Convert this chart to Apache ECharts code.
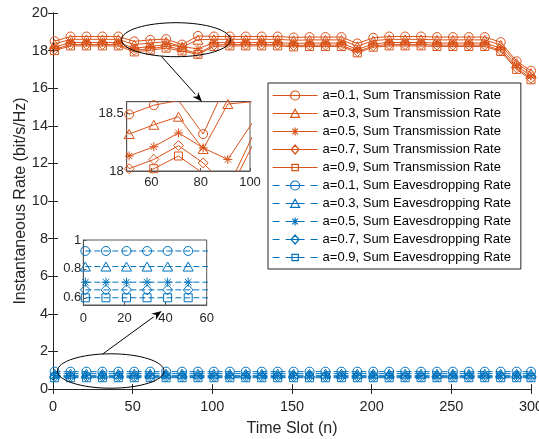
<!DOCTYPE html>
<html>
<head>
<meta charset="utf-8">
<script src="https://cdn.jsdelivr.net/npm/echarts@6/dist/echarts.min.js"></script>
<style>html,body{margin:0;padding:0;background:#fff}#c{width:539px;height:439px}</style>
</head>
<body>
<div id="c"></div>
<script>
// ---- data ----
const timeSlots = [1,11,21,31,41,51,61,71,81,91,101,111,121,131,141,151,161,171,181,191,201,211,221,231,241,251,261,271,281,291,300];
const trans01 = [18.50,18.75,18.75,18.75,18.75,18.49,18.57,18.61,18.32,18.78,18.75,18.75,18.75,18.75,18.75,18.70,18.72,18.72,18.72,18.38,18.68,18.75,18.75,18.75,18.72,18.72,18.72,18.72,18.45,17.43,16.93];
const trans03 = [18.35,18.60,18.60,18.60,18.60,18.32,18.40,18.47,18.19,18.58,18.60,18.60,18.60,18.60,18.60,18.55,18.57,18.57,18.57,18.23,18.53,18.60,18.60,18.60,18.57,18.57,18.57,18.57,18.30,17.33,16.80];
const trans05 = [18.18,18.43,18.43,18.43,18.43,18.13,18.21,18.33,18.20,18.10,18.42,18.43,18.43,18.43,18.43,18.38,18.40,18.40,18.40,18.06,18.36,18.43,18.43,18.43,18.40,18.40,18.40,18.40,18.13,17.20,16.65];
const trans07 = [18.07,18.32,18.32,18.32,18.32,18.02,18.10,18.22,18.07,17.85,18.30,18.32,18.32,18.32,18.32,18.27,18.29,18.29,18.29,17.95,18.25,18.32,18.32,18.32,18.29,18.29,18.29,18.29,18.02,17.08,16.53];
const trans09 = [18.00,18.25,18.25,18.25,18.25,17.93,18.02,18.13,17.98,17.80,18.22,18.25,18.25,18.25,18.25,18.20,18.22,18.22,18.22,17.88,18.18,18.25,18.25,18.25,18.22,18.22,18.22,18.22,17.95,17.00,16.45];
const eav01 = [0.924,0.924,0.924,0.924,0.924,0.924,0.924,0.924,0.924,0.924,0.924,0.924,0.924,0.924,0.924,0.924,0.924,0.924,0.924,0.924,0.924,0.924,0.924,0.924,0.924,0.924,0.924,0.924,0.924,0.924,0.924];
const eav03 = [0.816,0.816,0.816,0.816,0.816,0.816,0.816,0.816,0.816,0.816,0.816,0.816,0.816,0.816,0.816,0.816,0.816,0.816,0.816,0.816,0.816,0.816,0.816,0.816,0.816,0.816,0.816,0.816,0.816,0.816,0.816];
const eav05 = [0.708,0.708,0.708,0.708,0.708,0.708,0.708,0.708,0.708,0.708,0.708,0.708,0.708,0.708,0.708,0.708,0.708,0.708,0.708,0.708,0.708,0.708,0.708,0.708,0.708,0.708,0.708,0.708,0.708,0.708,0.708];
const eav07 = [0.655,0.655,0.655,0.655,0.655,0.655,0.655,0.655,0.655,0.655,0.655,0.655,0.655,0.655,0.655,0.655,0.655,0.655,0.655,0.655,0.655,0.655,0.655,0.655,0.655,0.655,0.655,0.655,0.655,0.655,0.655];
const eav09 = [0.600,0.600,0.600,0.600,0.600,0.600,0.600,0.600,0.600,0.600,0.600,0.600,0.600,0.600,0.600,0.600,0.600,0.600,0.600,0.600,0.600,0.600,0.600,0.600,0.600,0.600,0.600,0.600,0.600,0.600,0.600];
const aValues = ['0.1','0.3','0.5','0.7','0.9'];
const transSeries = [trans01, trans03, trans05, trans07, trans09];
const eavSeries = [eav01, eav03, eav05, eav07, eav09];
const xTicksMain = [0, 300, 50];
const yTicksMain = [0, 20, 2];
const inset1X = [50, 100], inset1XTicks = [60, 80, 100];
const inset1Y = [18, 18.6], inset1YTicks = [18, 18.5];
const inset2X = [0, 60], inset2XTicks = [0, 20, 40, 60];
const inset2Y = [0.55, 1], inset2YTicks = [0.6, 0.8, 1];

// ---- style ----
const ORANGE = '#D95319', BLUE = '#0072BD', AX = '#262626';
const FONT = '"Liberation Sans", Arial, Helvetica, sans-serif';
const SYMS = [
  'path://M1,0A1,1,0,1,1,-1,0A1,1,0,1,1,1,0Z',
  'path://M0,-1L1,0.8L-1,0.8Z',
  'path://M0,-1L0,1M-1,0L1,0M-0.72,-0.72L0.72,0.72M-0.72,0.72L0.72,-0.72',
  'path://M0,-1L1,0L0,1L-1,0Z',
  'path://M-1,-1L1,-1L1,1L-1,1Z'
];
const SYMSIZE = [9, 10, 9, 10, 8];
// legend icon pieces (45 x 11 box)
const ICON_MARK = [
  'M27,5.5A4.5,4.5,0,1,1,18,5.5A4.5,4.5,0,1,1,27,5.5Z',
  'M22.5,1.2L27,9.3L18,9.3Z',
  'M22.5,1.5L22.5,9.5M18.5,5.5L26.5,5.5M19.7,2.7L25.3,8.3M19.7,8.3L25.3,2.7',
  'M22.5,1L26.5,5.5L22.5,10L18.5,5.5Z',
  'M19.3,2.3L25.7,2.3L25.7,8.7L19.3,8.7Z'
];
const ICON_SOLID = 'M0,0M45,11M0,5.5L45,5.5';
const ICON_DASH = 'M0,0M45,11M0,5.5L7,5.5M13,5.5L32,5.5M38,5.5L45,5.5';

function pairs(xs, ys){ return xs.map((x,i)=>[x, ys[i]]); }

const series = [];
const legendData = [];
function mk(name, data, color, k, dashed, xi, yi){
  return {
    name, type:'line', data, xAxisIndex:xi, yAxisIndex:yi,
    symbol: SYMS[k], symbolSize: SYMSIZE[k], symbolKeepAspect: true,
    showAllSymbol: true, clip: true,
    lineStyle: {color, width: 1, type: dashed ? [6,3] : 'solid'},
    itemStyle: {color: 'rgba(0,0,0,0)', borderColor: color, borderWidth: 1},
    emphasis: {disabled: true}, z: 3
  };
}
aValues.forEach((a,k)=>{
  const n = 'a=' + a + ', Sum Transmission Rate';
  legendData.push({name:n, icon:'path://' + ICON_SOLID + ICON_MARK[k],
    itemStyle:{color:'rgba(0,0,0,0)', borderColor:ORANGE, borderWidth:1.2}});
  series.push(mk(n, pairs(timeSlots, transSeries[k]), ORANGE, k, false, 0, 0));
});
aValues.forEach((a,k)=>{
  const n = 'a=' + a + ', Sum Eavesdropping Rate';
  legendData.push({name:n, icon:'path://' + ICON_DASH + ICON_MARK[k],
    itemStyle:{color:'rgba(0,0,0,0)', borderColor:BLUE, borderWidth:1.2}});
  series.push(mk(n, pairs(timeSlots, eavSeries[k]), BLUE, k, true, 0, 0));
});
aValues.forEach((a,k)=>{
  series.push(mk('inset1-' + a, pairs(timeSlots, transSeries[k]), ORANGE, k, false, 2, 2));
});
aValues.forEach((a,k)=>{
  series.push(mk('inset2-' + a, pairs(timeSlots, eavSeries[k]), BLUE, k, true, 4, 3));
});

const axLine = {show:true, lineStyle:{color:AX, width:1}};
const labelStyle = (fs, m) => ({color:AX, fontSize:fs, fontFamily:FONT, margin:m});

function arrow(x1,y1,x2,y2){
  const dx=x2-x1, dy=y2-y1, L=Math.hypot(dx,dy), ux=dx/L, uy=dy/L;
  const hl=10, hw=3.8, bx=x2-ux*hl, by=y2-uy*hl, px=-uy, py=ux;
  const nx=x2-ux*hl*0.7, ny=y2-uy*hl*0.7;
  return [
    {type:'line', shape:{x1, y1, x2:bx, y2:by}, style:{stroke:'#000', lineWidth:1}, z:10},
    {type:'polygon', shape:{points:[[x2,y2],[bx+px*hw,by+py*hw],[nx,ny],[bx-px*hw,by-py*hw]]}, style:{fill:'#000'}, z:10}
  ];
}

const option = {
  animation: false,
  backgroundColor: '#fff',
  textStyle: {fontFamily: FONT},
  grid: [
    {left:53, right:8, top:13, bottom:50, show:false, outerBoundsMode:'none', containLabel:false},
    {left:126.7, top:101.7, width:123.3, height:69.3, show:true, backgroundColor:'#fff', borderColor:'#555', borderWidth:1, outerBoundsMode:'none', containLabel:false},
    {left:83.3, top:240, width:123.4, height:65, show:true, backgroundColor:'#fff', borderColor:'#555', borderWidth:1, outerBoundsMode:'none', containLabel:false}
  ],
  xAxis: [
    {gridIndex:0, type:'value', min:xTicksMain[0], max:xTicksMain[1], interval:xTicksMain[2], position:'bottom',
     axisLine:axLine, axisTick:{show:true, inside:true, length:5, lineStyle:{color:AX}},
     axisLabel:labelStyle(14.5, 10), splitLine:{show:false},
     name:'Time Slot (n)', nameLocation:'middle', nameGap:32, nameMoveOverlap:false,
     nameTextStyle:{fontSize:16, color:AX, fontFamily:FONT}},
    {gridIndex:0, type:'value', min:xTicksMain[0], max:xTicksMain[1], interval:xTicksMain[2], position:'top',
     axisLine:axLine, axisTick:{show:true, inside:true, length:5, lineStyle:{color:AX}},
     axisLabel:{show:false}, splitLine:{show:false}},
    {gridIndex:1, type:'value', min:inset1X[0], max:inset1X[1], position:'bottom',
     axisLine:{show:true, lineStyle:{color:'#555'}},
     axisTick:{show:true, inside:true, length:3, customValues:inset1XTicks, lineStyle:{color:'#555'}},
     axisLabel:Object.assign(labelStyle(13, 5), {customValues:inset1XTicks}), splitLine:{show:false}},
    {gridIndex:1, type:'value', min:inset1X[0], max:inset1X[1], position:'top',
     axisLine:{show:true, lineStyle:{color:'#555'}}, axisTick:{show:false}, axisLabel:{show:false}, splitLine:{show:false}},
    {gridIndex:2, type:'value', min:inset2X[0], max:inset2X[1], position:'bottom',
     axisLine:{show:true, lineStyle:{color:'#555'}},
     axisTick:{show:true, inside:true, length:3, customValues:inset2XTicks, lineStyle:{color:'#555'}},
     axisLabel:Object.assign(labelStyle(13, 7), {customValues:inset2XTicks}), splitLine:{show:false}}
  ],
  yAxis: [
    {gridIndex:0, type:'value', min:yTicksMain[0], max:yTicksMain[1], interval:yTicksMain[2], position:'left',
     axisLine:axLine, axisTick:{show:true, inside:true, length:5, lineStyle:{color:AX}},
     axisLabel:labelStyle(14.5, 5), splitLine:{show:false},
     name:'Instantaneous Rate (bit/s/Hz)', nameLocation:'middle', nameGap:24, nameRotate:90, nameMoveOverlap:false,
     nameTextStyle:{fontSize:16, color:AX, fontFamily:FONT}},
    {gridIndex:0, type:'value', min:yTicksMain[0], max:yTicksMain[1], interval:yTicksMain[2], position:'right',
     axisLine:axLine, axisTick:{show:true, inside:true, length:5, lineStyle:{color:AX}},
     axisLabel:{show:false}, splitLine:{show:false}},
    {gridIndex:1, type:'value', min:inset1Y[0], max:inset1Y[1], position:'left',
     axisLine:{show:true, lineStyle:{color:'#555'}},
     axisTick:{show:true, inside:true, length:3, customValues:inset1YTicks, lineStyle:{color:'#555'}},
     axisLabel:Object.assign(labelStyle(13, 3), {customValues:inset1YTicks}), splitLine:{show:false}},
    {gridIndex:2, type:'value', min:inset2Y[0], max:inset2Y[1], position:'left',
     axisLine:{show:true, lineStyle:{color:'#555'}},
     axisTick:{show:true, inside:true, length:3, customValues:inset2YTicks, lineStyle:{color:'#555'}},
     axisLabel:Object.assign(labelStyle(13, 2), {customValues:inset2YTicks}), splitLine:{show:false}}
  ],
  legend: {
    data: legendData, orient:'vertical', left:268, top:83,
    padding:[6,10,5,4], itemWidth:45, itemHeight:11, itemGap:5,
    backgroundColor:'#fff', borderColor:AX, borderWidth:1, borderRadius:0,
    selectedMode:false,
    textStyle:{fontSize:13, color:'#000', fontFamily:FONT, lineHeight:12}
  },
  graphic: [
    {type:'ellipse', shape:{cx:176, cy:39.7, rx:54.5, ry:17}, style:{fill:'none', stroke:'#000', lineWidth:1}, z:10},
    {type:'ellipse', shape:{cx:110.7, cy:371, rx:53.3, ry:17.2}, style:{fill:'none', stroke:'#000', lineWidth:1}, z:10}
  ].concat(arrow(161.7,56.7,202,101.7)).concat(arrow(102.7,354,161.7,311)),
  series
};
const chart = echarts.init(document.getElementById('c'), null, {renderer:'canvas'});
chart.setOption(option);
</script>
</body>
</html>
